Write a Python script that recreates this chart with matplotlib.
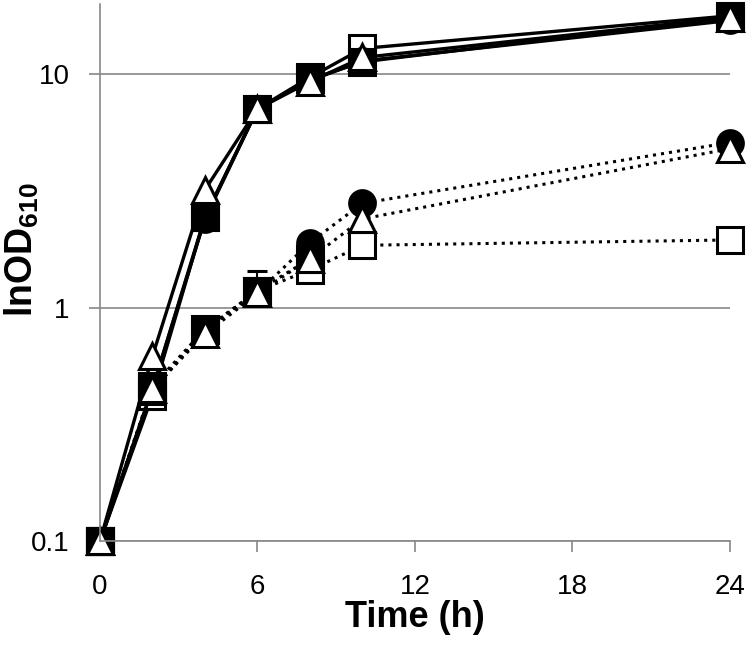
import numpy as np
import matplotlib.pyplot as plt
from matplotlib.ticker import FixedLocator, FixedFormatter, NullLocator

plt.rcParams['font.family'] = ['Liberation Sans', 'DejaVu Sans']
plt.rcParams['mathtext.fontset'] = 'custom'
plt.rcParams['mathtext.bf'] = 'Liberation Sans:bold'
plt.rcParams['mathtext.rm'] = 'Liberation Sans'

nan = np.nan

# Sampling times (h)
time_h = [0, 2, 4, 6, 8, 10, 24]

# Solid-line cultures
solid_sq_open = [0.1, 0.42, 2.45, 7.1, 9.7, 12.9, 17.8]
solid_circle = [0.1, 0.45, 2.40, 7.1, 9.4, 11.4, 17.0]
solid_sq_filled = [0.1, 0.45, 2.45, 7.1, 9.5, 11.3, 17.5]
solid_triangle = [0.1, 0.62, 3.20, 7.1, 9.3, 11.8, 17.5]

# Dotted-line cultures
dot_sq_open = [0.1, 0.44, 0.80, 1.18, 1.45, 1.85, 1.95]
dot_sq_filled = [0.1, 0.46, 0.81, 1.18, 1.62, nan, nan]
dot_sq_filled_err = [0, 0, 0, 0.26, 0, 0, 0]
dot_circle = [0.1, 0.45, 0.80, 1.16, 1.90, 2.8, 5.1]
dot_circle_err = [0, 0, 0, 0, 0.12, 0, 0]
dot_triangle = [0.1, 0.45, 0.77, 1.15, 1.62, 2.4, 4.8]

fig = plt.figure(figsize=(7.5, 6.48), dpi=100)
ax = fig.add_axes([0.1333, 0.1651, 0.84, 0.8287])

ms = 18.5
mew = 2.2


def draw(y, ls, marker, filled, err=None):
    face = 'black' if filled else 'white'
    lw = 2.4 if ls == '-' else 2.2
    yerr = None
    if err is not None:
        yerr = [np.zeros(len(err)), err]
    ax.errorbar(time_h, y, yerr=yerr, color='black', linestyle=ls, linewidth=lw,
                marker=marker, markersize=ms, markerfacecolor=face,
                markeredgecolor='black', markeredgewidth=mew,
                ecolor='black', elinewidth=1.5, capsize=7, capthick=1.5)


# solid series
draw(solid_sq_open, '-', 's', False)
draw(solid_circle, '-', 'o', True)
draw(solid_sq_filled, '-', 's', True)
draw(solid_triangle, '-', '^', False)

# dotted series
draw(dot_sq_open, ':', 's', False)
draw(dot_sq_filled, ':', 's', True, dot_sq_filled_err)
draw(dot_circle, ':', 'o', True, dot_circle_err)
draw(dot_triangle, ':', '^', False)

ax.set_yscale('log')
ax.set_ylim(0.1, 20)
ax.set_xlim(0, 24)

ax.yaxis.set_major_locator(FixedLocator([0.1, 1, 10]))
ax.yaxis.set_major_formatter(FixedFormatter(['0.1', '1', '10']))
ax.yaxis.set_minor_locator(NullLocator())
ax.set_xticks([0, 6, 12, 18, 24])

for side in ['top', 'right']:
    ax.spines[side].set_visible(False)
for side in ['left', 'bottom']:
    ax.spines[side].set_color('#888888')
    ax.spines[side].set_linewidth(1.2)

ax.grid(axis='y', color='#888888', linewidth=1.2)
ax.set_axisbelow(True)
ax.tick_params(axis='both', colors='#888888', labelcolor='black', labelsize=20,
               length=8, width=1.2, direction='out')
ax.tick_params(axis='y', pad=14)
ax.tick_params(axis='x', pad=16)

for m in ax.lines:
    m.set_clip_on(False)

ax.set_xlabel('Time (h)', fontsize=26, fontweight='bold', labelpad=0)
fig.text(22 / 750, 1 - 250 / 648, r'$\mathbf{lnOD_{610}}$', fontsize=27,
         rotation=90, ha='center', va='center')

plt.savefig('out.png', dpi=100)
